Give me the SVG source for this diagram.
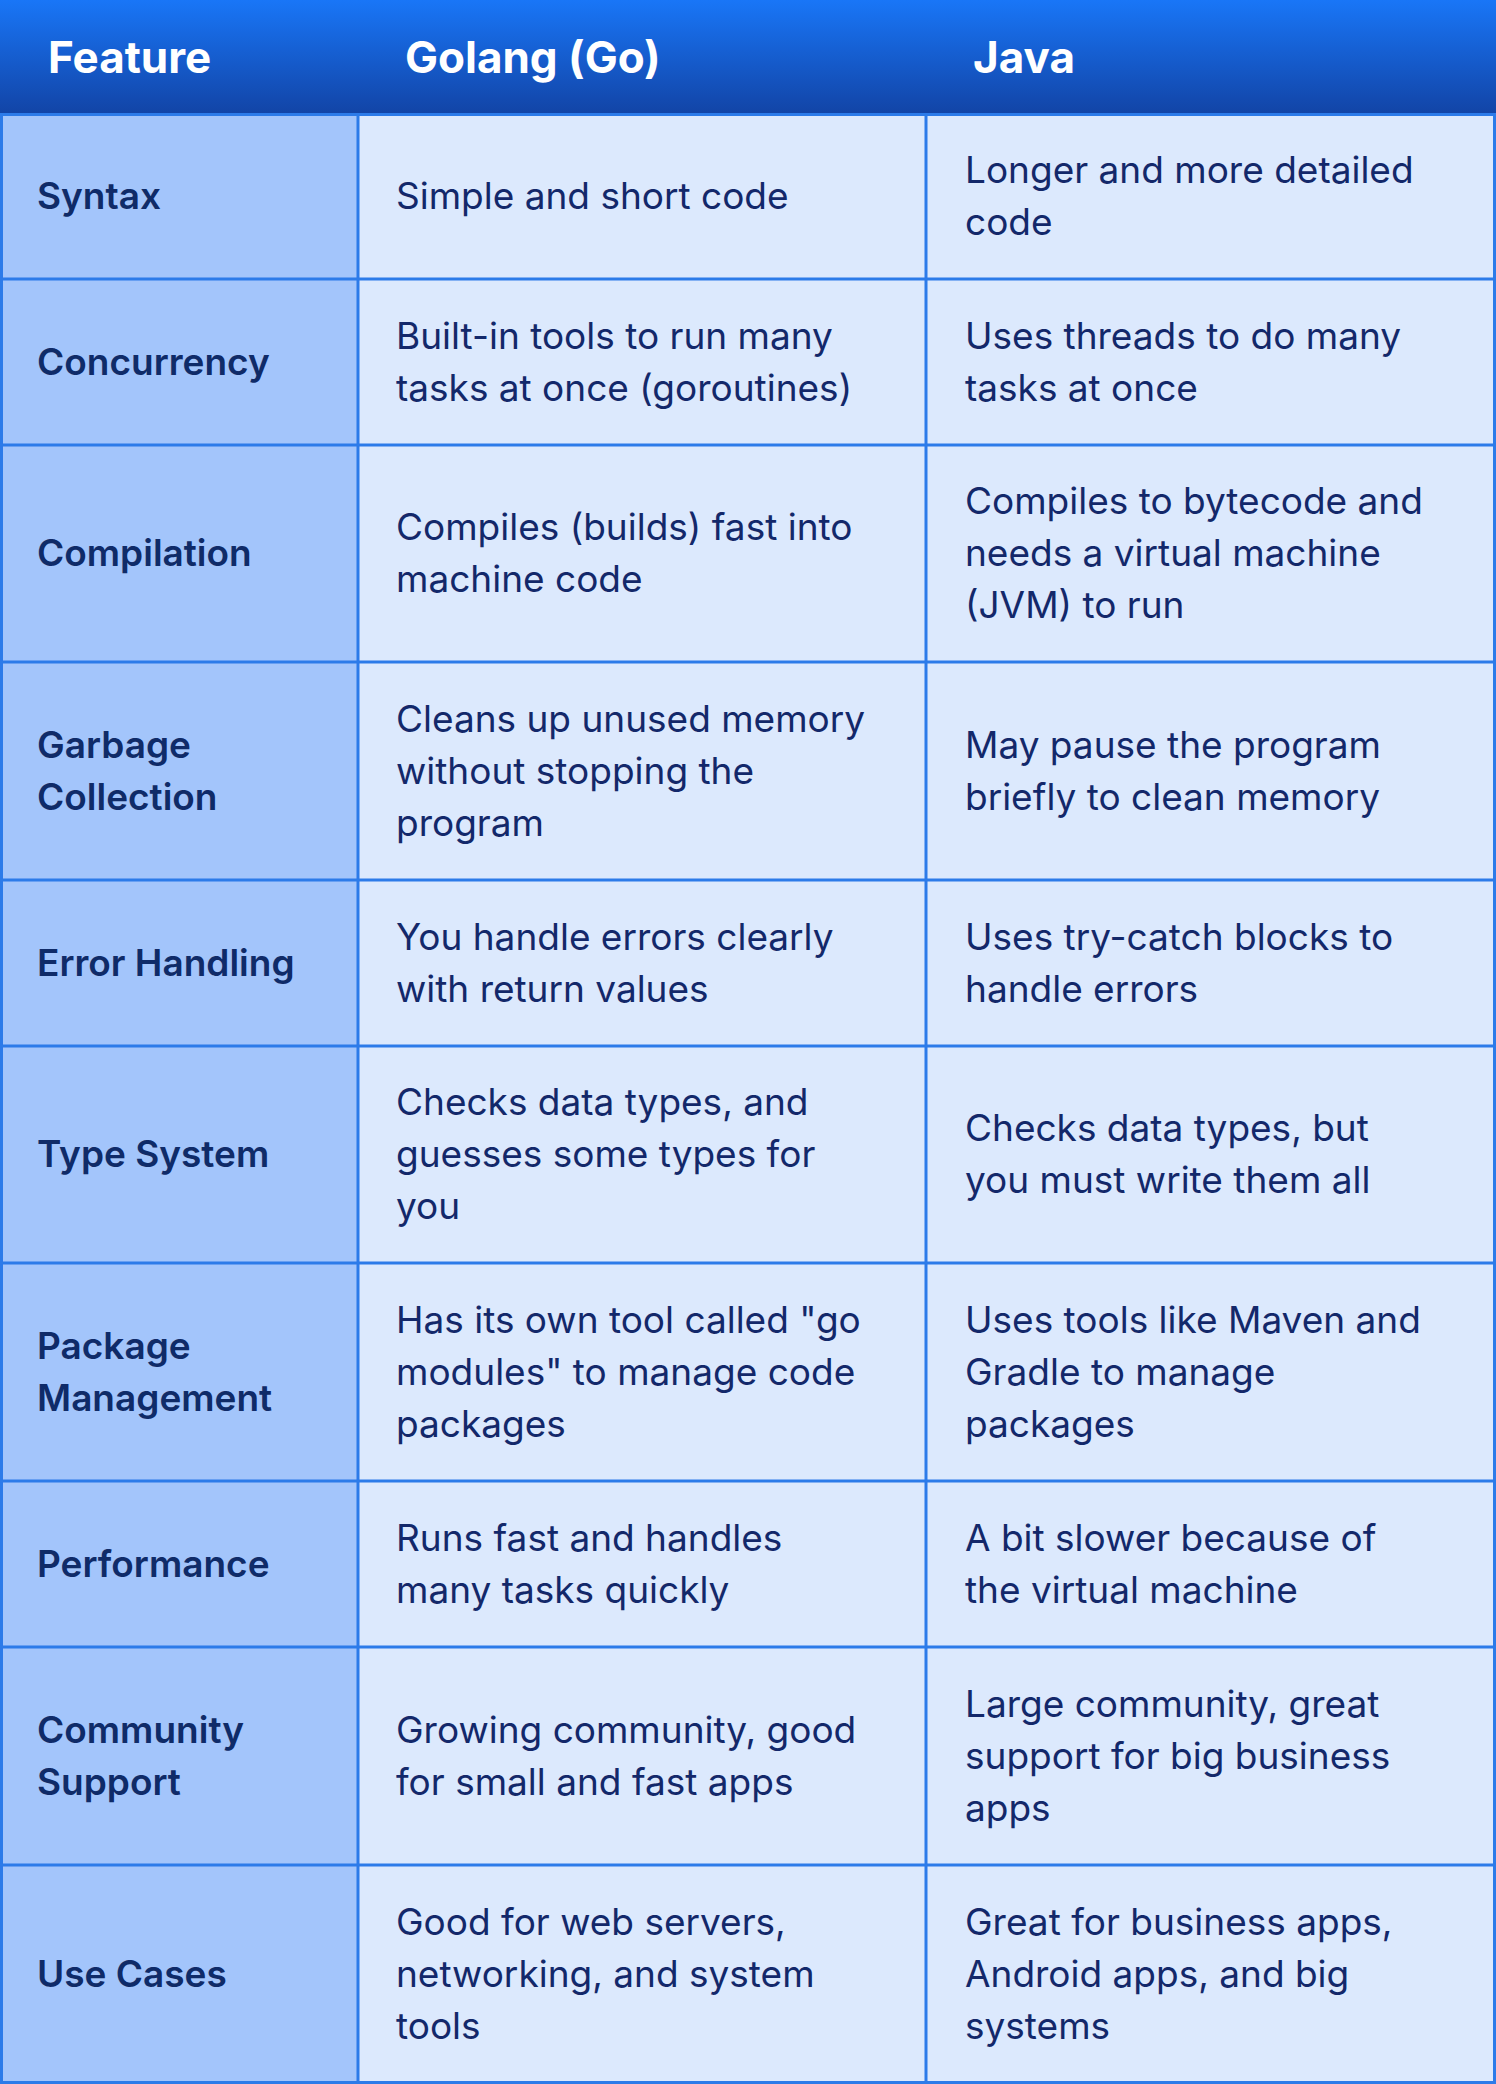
<svg xmlns="http://www.w3.org/2000/svg" width="1496" height="2084" viewBox="0 0 1496 2084">
<defs>
<linearGradient id="hg" x1="0" y1="0" x2="0" y2="1"><stop offset="0" stop-color="#1976f7"/><stop offset="1" stop-color="#1244a6"/></linearGradient>
<style>
.h{font-family:Inter,"Noto Sans",sans-serif;font-weight:700;font-size:44px;fill:#fff}
.f{font-family:Inter,"Noto Sans",sans-serif;font-weight:600;font-size:37px;fill:#0f2b68}
.t{font-family:Inter,"Noto Sans",sans-serif;font-weight:400;font-size:37px;fill:#13286a}
.g{stroke:#2c7be9;stroke-width:3;fill:none}
</style>
</defs>
<rect x="0" y="0" width="1496" height="114" fill="url(#hg)"/>
<rect x="0" y="114" width="358" height="1970" fill="#a3c5fb"/>
<rect x="358" y="114" width="1138" height="1970" fill="#dce9fd"/>
<g id="header">
<text class="h" x="48" y="73">Feature</text>
<text class="h" x="405" y="73">Golang (Go)</text>
<text class="h" x="973" y="73">Java</text>
</g>
<g id="grid" class="g">
<path d="M1.5 114V2084M358 114V2084M926 114V2084M1494.5 114V2084"/>
<path d="M0 114.5H1496M0 279H1496M0 445H1496M0 662H1496M0 880H1496M0 1046H1496M0 1263H1496M0 1481H1496M0 1647H1496M0 1865H1496M0 2082.5H1496"/>
</g>
<g id="r1"><text class="f" x="37" y="209">Syntax</text>
<text class="t" x="396" y="209">Simple and short code</text>
<text class="t" x="965" y="183">Longer and more detailed</text><text class="t" x="965" y="235">code</text></g>
<g id="r2"><text class="f" x="37" y="375">Concurrency</text>
<text class="t" x="396" y="349">Built-in tools to run many</text><text class="t" x="396" y="401">tasks at once (goroutines)</text>
<text class="t" x="965" y="349">Uses threads to do many</text><text class="t" x="965" y="401">tasks at once</text></g>
<g id="r3"><text class="f" x="37" y="566">Compilation</text>
<text class="t" x="396" y="540">Compiles (builds) fast into</text><text class="t" x="396" y="592">machine code</text>
<text class="t" x="965" y="514">Compiles to bytecode and</text><text class="t" x="965" y="566">needs a virtual machine</text><text class="t" x="965" y="618">(JVM) to run</text></g>
<g id="r4"><text class="f" x="37" y="758">Garbage</text><text class="f" x="37" y="810">Collection</text>
<text class="t" x="396" y="732">Cleans up unused memory</text><text class="t" x="396" y="784">without stopping the</text><text class="t" x="396" y="836">program</text>
<text class="t" x="965" y="758">May pause the program</text><text class="t" x="965" y="810">briefly to clean memory</text></g>
<g id="r5"><text class="f" x="37" y="976">Error Handling</text>
<text class="t" x="396" y="950">You handle errors clearly</text><text class="t" x="396" y="1002">with return values</text>
<text class="t" x="965" y="950">Uses try-catch blocks to</text><text class="t" x="965" y="1002">handle errors</text></g>
<g id="r6"><text class="f" x="37" y="1167">Type System</text>
<text class="t" x="396" y="1115">Checks data types, and</text><text class="t" x="396" y="1167">guesses some types for</text><text class="t" x="396" y="1219">you</text>
<text class="t" x="965" y="1141">Checks data types, but</text><text class="t" x="965" y="1193">you must write them all</text></g>
<g id="r7"><text class="f" x="37" y="1359">Package</text><text class="f" x="37" y="1411">Management</text>
<text class="t" x="396" y="1333">Has its own tool called "go</text><text class="t" x="396" y="1385">modules" to manage code</text><text class="t" x="396" y="1437">packages</text>
<text class="t" x="965" y="1333">Uses tools like Maven and</text><text class="t" x="965" y="1385">Gradle to manage</text><text class="t" x="965" y="1437">packages</text></g>
<g id="r8"><text class="f" x="37" y="1577">Performance</text>
<text class="t" x="396" y="1551">Runs fast and handles</text><text class="t" x="396" y="1603">many tasks quickly</text>
<text class="t" x="965" y="1551">A bit slower because of</text><text class="t" x="965" y="1603">the virtual machine</text></g>
<g id="r9"><text class="f" x="37" y="1743">Community</text><text class="f" x="37" y="1795">Support</text>
<text class="t" x="396" y="1743">Growing community, good</text><text class="t" x="396" y="1795">for small and fast apps</text>
<text class="t" x="965" y="1717">Large community, great</text><text class="t" x="965" y="1769">support for big business</text><text class="t" x="965" y="1821">apps</text></g>
<g id="r10"><text class="f" x="37" y="1987">Use Cases</text>
<text class="t" x="396" y="1935">Good for web servers,</text><text class="t" x="396" y="1987">networking, and system</text><text class="t" x="396" y="2039">tools</text>
<text class="t" x="965" y="1935">Great for business apps,</text><text class="t" x="965" y="1987">Android apps, and big</text><text class="t" x="965" y="2039">systems</text></g>
</svg>
